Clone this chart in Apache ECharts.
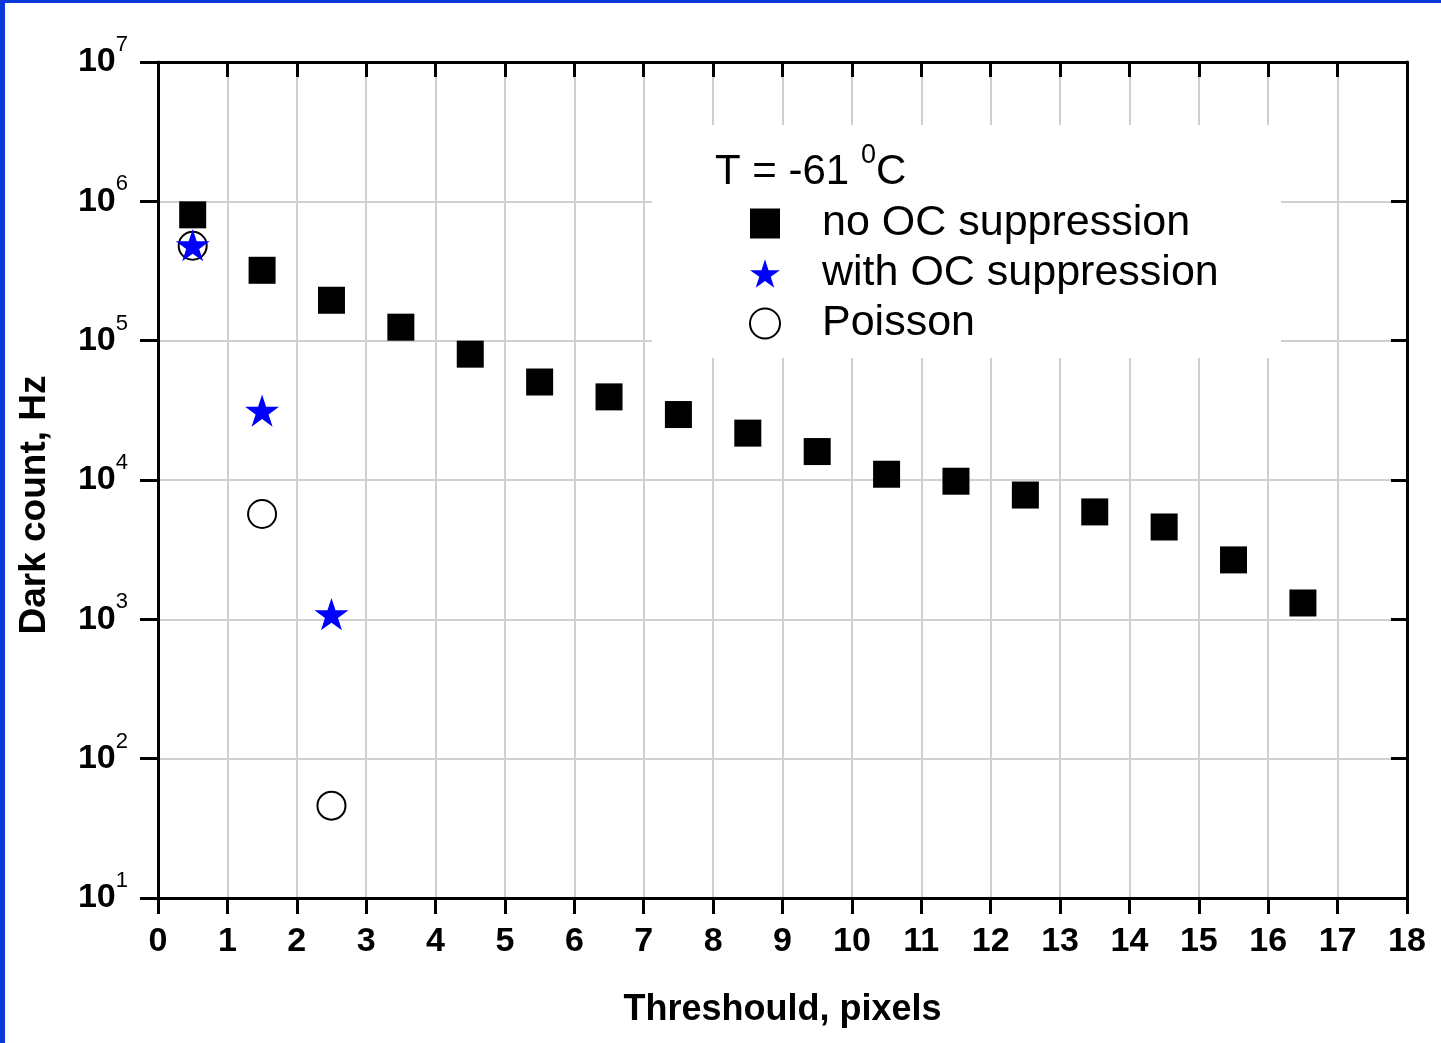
<!DOCTYPE html>
<html>
<head>
<meta charset="utf-8">
<script src="https://cdn.jsdelivr.net/npm/echarts@6/dist/echarts.min.js"></script>
<style>
  html, body { margin: 0; padding: 0; background: #fff; }
  #chart { width: 1441px; height: 1043px; }
</style>
</head>
<body>
<div id="chart"></div>
<script>
  // threshold values, pixels
  var thresholds = [0.5, 1.5, 2.5, 3.5, 4.5, 5.5, 6.5, 7.5, 8.5, 9.5, 10.5, 11.5, 12.5, 13.5, 14.5, 15.5, 16.5];
  // dark count, Hz
  var noSuppression = [8.0e5, 3.2e5, 1.95e5, 1.25e5, 8.0e4, 5.05e4, 3.95e4, 2.95e4, 2.17e4, 1.6e4, 1.1e4, 9.8e3, 7.8e3, 5.9e3, 4.6e3, 2.67e3, 1.31e3];
  var withSuppression = [4.85e5, 3.15e4, 1.09e3];
  var poisson = [4.8e5, 5.7e3, 46];
  var seriesNames = ['no OC suppression', 'with OC suppression', 'Poisson'];

  var font = 'Liberation Sans, Arial, sans-serif';
  var starPath = 'path://M0,-1L0.2245,-0.309L0.951,-0.309L0.363,0.118L0.588,0.809L0,0.382L-0.588,0.809L-0.363,0.118L-0.951,-0.309L-0.2245,-0.309Z';

  function pairs(vals) {
    return vals.map(function (v, i) { return [thresholds[i], v]; });
  }

  var chart = echarts.init(document.getElementById('chart'));

  var axisLine = { show: true, onZero: false, lineStyle: { color: '#000', width: 3 } };

  var option = {
    backgroundColor: '#fff',
    animation: false,
    grid: { left: 158, right: 34, top: 62, bottom: 145 },
    xAxis: [{
      type: 'value', min: 0, max: 18, interval: 1, position: 'bottom',
      name: 'Threshould, pixels', nameLocation: 'middle', nameGap: 94,
      nameTextStyle: { fontFamily: font, fontSize: 36, fontWeight: 'bold', color: '#000' },
      axisLine: axisLine,
      axisTick: { show: true, inside: false, length: 16, lineStyle: { color: '#000', width: 3 } },
      axisLabel: { margin: 27, fontFamily: font, fontSize: 34, fontWeight: 'bold', color: '#000' },
      splitLine: { show: true, lineStyle: { color: '#d0d0d0', width: 2 } }
    }, {
      type: 'value', min: 0, max: 18, interval: 1, position: 'top',
      axisLine: axisLine,
      axisTick: { show: true, inside: true, length: 15, lineStyle: { color: '#000', width: 3 } },
      axisLabel: { show: false },
      splitLine: { show: false }
    }],
    yAxis: [{
      type: 'log', logBase: 10, min: 10, max: 1e7, position: 'left',
      name: 'Dark count, Hz', nameLocation: 'middle', nameGap: 105, nameRotate: 90,
      nameTextStyle: { fontFamily: font, fontSize: 37, fontWeight: 'bold', color: '#000', padding: [0, 50, 0, 0] },
      axisLine: axisLine,
      axisTick: { show: true, inside: false, length: 18, lineStyle: { color: '#000', width: 3 } },
      axisLabel: {
        margin: 30, color: '#000',
        formatter: function (v) {
          return '{b|10}{s|' + Math.round(Math.log10(v)) + '}';
        },
        rich: {
          b: { fontFamily: font, fontSize: 34, fontWeight: 'bold', color: '#000', lineHeight: 56 },
          s: { fontFamily: font, fontSize: 22, color: '#000', lineHeight: 22, verticalAlign: 'top' }
        }
      },
      splitLine: { show: true, lineStyle: { color: '#d0d0d0', width: 2 } }
    }, {
      type: 'log', logBase: 10, min: 10, max: 1e7, position: 'right',
      axisLine: axisLine,
      axisTick: { show: true, inside: true, length: 16, lineStyle: { color: '#000', width: 3 } },
      axisLabel: { show: false },
      splitLine: { show: false }
    }],
    legend: {
      orient: 'vertical', left: 744, top: 197, itemGap: 7,
      itemWidth: 30, itemHeight: 30, z: 10,
      data: seriesNames,
      textStyle: { fontFamily: font, fontSize: 43, color: '#000', padding: [0, 0, 0, 37] }
    },
    graphic: [
      // white box behind the legend, hiding the grid
      { type: 'rect', shape: { x: 652, y: 125, width: 629, height: 233 }, style: { fill: '#fff' }, z: 1 },
      {
        type: 'text', x: 715, y: 142, z: 10,
        style: {
          text: '{a|T = -61 }{s|0}{a|C}',
          rich: {
            a: { fontFamily: font, fontSize: 42, fill: '#000', lineHeight: 60 },
            s: { fontFamily: font, fontSize: 27, fill: '#000', lineHeight: 27, verticalAlign: 'top' }
          }
        }
      },
      // blue slide frame
      { type: 'rect', shape: { x: 0, y: 0, width: 5, height: 1043 }, style: { fill: '#0b38d8' }, z: 20 },
      { type: 'rect', shape: { x: 0, y: 0, width: 1441, height: 3 }, style: { fill: '#0b38d8' }, z: 20 }
    ],
    series: [{
      name: seriesNames[0], type: 'scatter', z: 3,
      symbol: 'rect', symbolSize: 27,
      itemStyle: { color: '#000', opacity: 1 },
      data: pairs(noSuppression)
    }, {
      name: seriesNames[2], type: 'scatter', z: 4,
      symbol: 'circle', symbolSize: 28,
      itemStyle: { color: '#fff', borderColor: '#000', borderWidth: 2, opacity: 1 },
      data: pairs(poisson)
    }, {
      name: seriesNames[1], type: 'scatter', z: 5,
      symbol: starPath, symbolSize: 34, symbolKeepAspect: true,
      itemStyle: { color: '#0000ff', opacity: 1 },
      data: pairs(withSuppression)
    }]
  };

  chart.setOption(option);
</script>
</body>
</html>
